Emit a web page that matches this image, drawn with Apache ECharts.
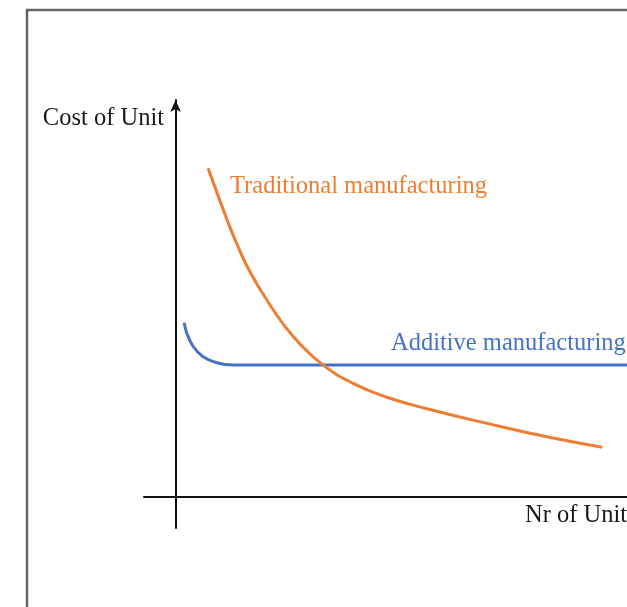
<!DOCTYPE html>
<html>
<head>
<meta charset="utf-8">
<script src="https://cdn.jsdelivr.net/npm/echarts@6/dist/echarts.min.js"></script>
<style>
    html, body { margin: 0; padding: 0; background: #fff; }
    #chart { width: 627px; height: 607px; }
</style>
</head>
<body>
<div id="chart"></div>
<script>
    // curve points, x = number of units, y = cost of unit (arbitrary units)
    var additiveX = [1.9, 2.5, 3.9, 6.1, 9.1, 12.8, 25, 100];
    var additiveY = [43.8, 41.1, 37.8, 35.2, 33.7, 33.1, 33.1, 33.1];
    var traditionalX = [7.2, 9.2, 11.4, 13.6, 16.5, 20.3, 23.8, 27.6, 32.7, 39.3, 46.8, 55.7, 69.0, 83.6, 94.5];
    var traditionalY = [82.8, 76.5, 69.8, 63.6, 56.6, 49.4, 43.5, 38.4, 33.1, 28.5, 25.0, 22.1, 18.4, 14.7, 12.4];
    var seriesNames = ['Additive manufacturing', 'Traditional manufacturing'];
    var axisNames = ['Nr of Unit', 'Cost of Unit'];

    function pairs(xs, ys) {
        return xs.map(function (x, i) { return [x, ys[i]]; });
    }

    var serif = '24.5px "Liberation Serif", "Times New Roman", serif';
    var chart = echarts.init(document.getElementById('chart'));
    chart.setOption({
        animation: false,
        backgroundColor: '#fff',
        grid: { left: 144, right: 0, top: 100, bottom: 79 },
        xAxis: {
            type: 'value',
            min: -7,
            max: 100,
            axisLine: { onZero: true, lineStyle: { color: '#111', width: 2 } },
            axisTick: { show: false },
            axisLabel: { show: false },
            splitLine: { show: false }
        },
        yAxis: {
            type: 'value',
            min: -8,
            max: 100,
            axisLine: {
                onZero: true,
                symbol: ['none', 'arrow'],
                symbolSize: [8, 12],
                lineStyle: { color: '#111', width: 2 }
            },
            axisTick: { show: false },
            axisLabel: { show: false },
            splitLine: { show: false }
        },
        series: [
            {
                name: seriesNames[0],
                type: 'line',
                smooth: 0.4,
                showSymbol: false,
                lineStyle: { color: '#4472C4', width: 3 },
                data: pairs(additiveX, additiveY)
            },
            {
                name: seriesNames[1],
                type: 'line',
                smooth: 0.5,
                showSymbol: false,
                lineStyle: { color: '#ED7D31', width: 3 },
                data: pairs(traditionalX, traditionalY)
            }
        ],
        graphic: [
            {
                type: 'rect',
                shape: { x: 27, y: 10, width: 700, height: 700 },
                style: { fill: 'none', stroke: '#666', lineWidth: 2.5 },
                silent: true
            },
            {
                type: 'text',
                style: { text: axisNames[1], x: 164, y: 119, font: serif, fill: '#1a1a1a', textAlign: 'right', textVerticalAlign: 'middle' }
            },
            {
                type: 'text',
                style: { text: axisNames[0], x: 525, y: 516, font: serif, fill: '#1a1a1a', textAlign: 'left', textVerticalAlign: 'middle' }
            },
            {
                type: 'text',
                style: { text: seriesNames[1], x: 230, y: 187, font: serif, fill: '#ED7D31', textAlign: 'left', textVerticalAlign: 'middle' }
            },
            {
                type: 'text',
                style: { text: seriesNames[0], x: 391, y: 344, font: serif, fill: '#4472C4', textAlign: 'left', textVerticalAlign: 'middle' }
            }
        ]
    });
</script>
</body>
</html>
